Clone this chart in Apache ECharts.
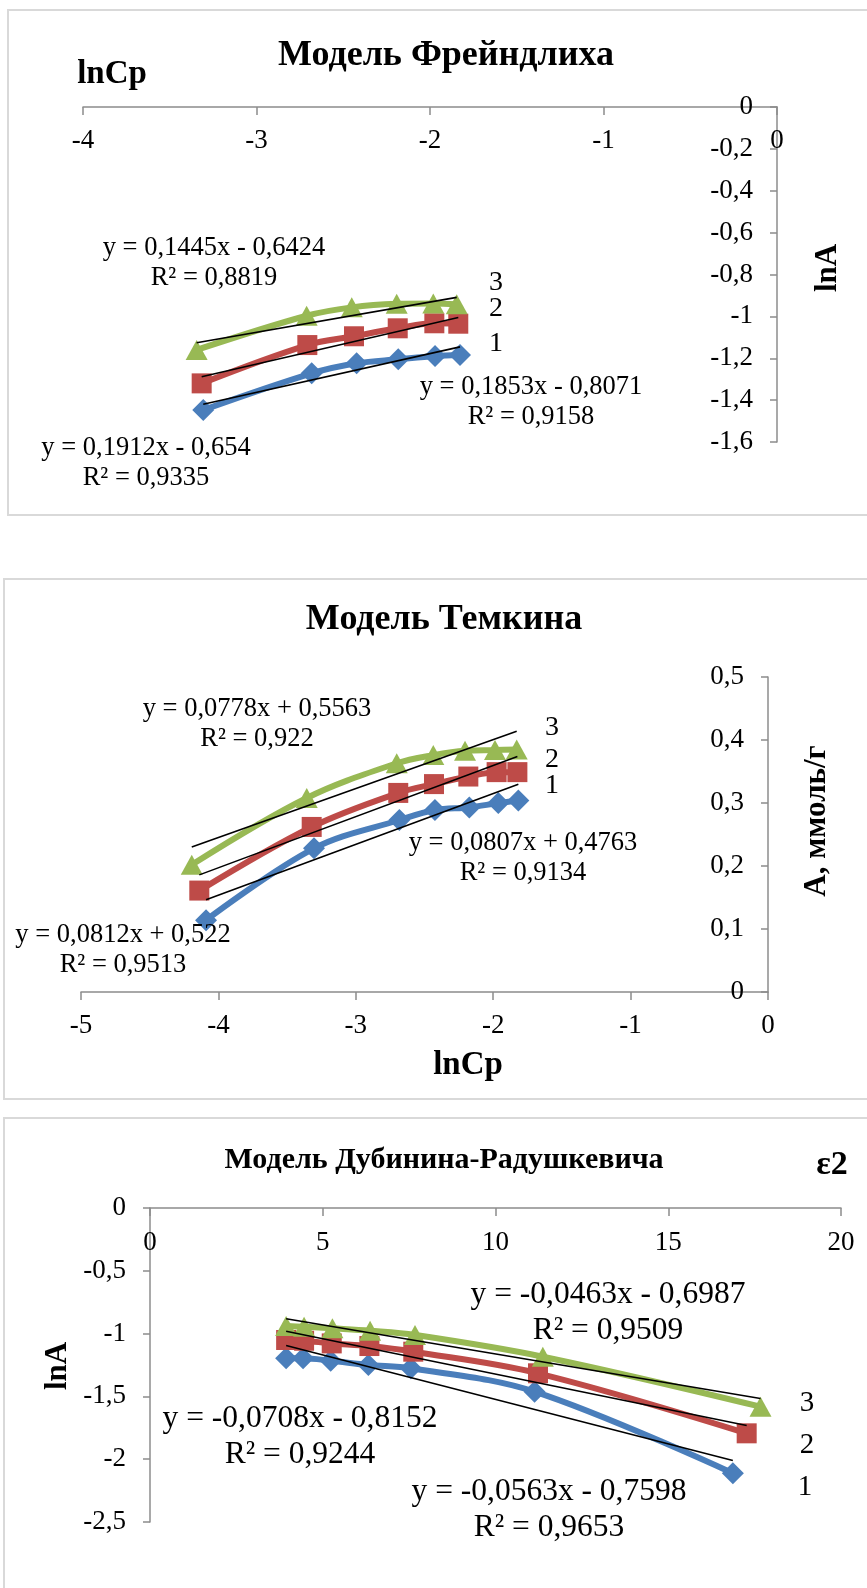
<!DOCTYPE html>
<html>
<head>
<meta charset="utf-8">
<script src="https://cdn.jsdelivr.net/npm/echarts@6/dist/echarts.min.js"></script>
<style>
html,body{margin:0;padding:0;background:#fff;}
#chart{width:867px;height:1588px;}
</style>
</head>
<body>
<div id="chart"></div>
<script>
// ---------- DATA ----------
// Freundlich model (lnCp -> lnA), series 1 (blue), 2 (red), 3 (green)
const freundX1 = [-3.307, -2.682, -2.423, -2.183, -1.971, -1.827];
const freundY1 = [-1.447, -1.272, -1.224, -1.205, -1.189, -1.184];
const freundX2 = [-3.316, -2.707, -2.438, -2.186, -1.975, -1.837];
const freundY2 = [-1.320, -1.137, -1.095, -1.057, -1.033, -1.035];
const freundX3 = [-3.345, -2.711, -2.451, -2.192, -1.981, -1.846];
const freundY3 = [-1.160, -0.997, -0.957, -0.940, -0.938, -0.942];
const freundSlope = [0.1853, 0.1912, 0.1445];
const freundIntercept = [-0.8071, -0.654, -0.6424];
const freundEq = ['y = 0,1853x - 0,8071\nR² = 0,9158', 'y = 0,1912x - 0,654\nR² = 0,9335', 'y = 0,1445x - 0,6424\nR² = 0,8819'];
const freundXTicks = [-4, -3, -2, -1, 0];
const freundYTicks = [-1.6, -1.4, -1.2, -1, -0.8, -0.6, -0.4, -0.2, 0];

// Temkin model (lnCp -> A, mmol/g)
const temkX1 = [-4.090, -3.304, -2.683, -2.424, -2.174, -1.963, -1.817];
const temkY1 = [0.114, 0.228, 0.273, 0.289, 0.293, 0.300, 0.304];
const temkX2 = [-4.139, -3.321, -2.691, -2.431, -2.181, -1.975, -1.824];
const temkY2 = [0.161, 0.262, 0.316, 0.330, 0.342, 0.349, 0.349];
const temkX3 = [-4.194, -3.357, -2.702, -2.436, -2.205, -1.987, -1.829];
const temkY3 = [0.202, 0.308, 0.363, 0.376, 0.383, 0.384, 0.385];
const temkSlope = [0.0807, 0.0812, 0.0778];
const temkIntercept = [0.4763, 0.522, 0.5563];
const temkEq = ['y = 0,0807x + 0,4763\nR² = 0,9134', 'y = 0,0812x + 0,522\nR² = 0,9513', 'y = 0,0778x + 0,5563\nR² = 0,922'];
const temkXTicks = [-5, -4, -3, -2, -1, 0];
const temkYTicks = [0, 0.1, 0.2, 0.3, 0.4, 0.5];

// Dubinin-Radushkevich model (ε2 -> lnA)
const drX1 = [3.94, 4.43, 5.23, 6.32, 7.55, 11.13, 16.87];
const drY1 = [-1.197, -1.197, -1.216, -1.250, -1.276, -1.462, -2.112];
const drX2 = [3.94, 4.46, 5.26, 6.35, 7.62, 11.23, 17.27];
const drY2 = [-1.051, -1.057, -1.078, -1.099, -1.144, -1.316, -1.794];
const drX3 = [3.94, 4.46, 5.28, 6.37, 7.67, 11.37, 17.67];
const drY3 = [-0.939, -0.945, -0.958, -0.977, -1.011, -1.184, -1.582];
const drSlope = [-0.0708, -0.0563, -0.0463];
const drIntercept = [-0.8152, -0.7598, -0.6987];
const drEq = ['y = -0,0708x - 0,8152\nR² = 0,9244', 'y = -0,0563x - 0,7598\nR² = 0,9653', 'y = -0,0463x - 0,6987\nR² = 0,9509'];
const drXTicks = [0, 5, 10, 15, 20];
const drYTicks = [-2.5, -2, -1.5, -1, -0.5, 0];

const seriesNames = ['1', '2', '3'];
const titles = ['Модель Фрейндлиха', 'Модель Темкина', 'Модель Дубинина-Радушкевича'];

// ---------- STYLE ----------
const SERIF = '"Liberation Serif", "Times New Roman", serif';
const COLORS = ['#4a7ebb', '#be4b48', '#98b954'];
const SYMBOLS = ['diamond', 'rect', 'triangle'];
const SYMSIZE = [[22, 22], [20, 20], [22, 20]];
const AXIS_COLOR = '#8c8c8c';

function zip(xs, ys) { return xs.map((x, i) => [x, ys[i]]); }
function fmt(v) { const r = Math.round(v * 10) / 10; return String(r).replace('.', ','); }

function axisCfg(gi, ticks, position, inside, labelMargin, fs, tickLen) {
  return {
    gridIndex: gi, type: 'value', position: position,
    min: ticks[0], max: ticks[ticks.length - 1], interval: +(ticks[1] - ticks[0]).toFixed(2),
    axisLine: { show: true, onZero: false, lineStyle: { color: AXIS_COLOR, width: 1.5 } },
    axisTick: { show: true, inside: inside, length: tickLen, lineStyle: { color: AXIS_COLOR, width: 1.5 } },
    axisLabel: { inside: inside, margin: labelMargin, fontSize: fs, fontFamily: SERIF, color: '#000', formatter: fmt, showMinLabel: true, showMaxLabel: true, hideOverlap: false },
    splitLine: { show: false }
  };
}

const series = [];
function addPanel(gi, xs, ys, slopes, intercepts) {
  for (let k = 0; k < 3; k++) {
    series.push({
      name: seriesNames[k], type: 'line', xAxisIndex: gi, yAxisIndex: gi,
      data: zip(xs[k], ys[k]), smooth: 0.35,
      symbol: SYMBOLS[k], symbolSize: SYMSIZE[k],
      lineStyle: { color: COLORS[k], width: 6 },
      itemStyle: { color: COLORS[k] },
      z: 2 + k * 0.1
    });
  }
  for (let k = 0; k < 3; k++) {
    const xmin = Math.min.apply(null, xs[k]);
    const xmax = Math.max.apply(null, xs[k]);
    series.push({
      name: 'trend ' + seriesNames[k], type: 'line', xAxisIndex: gi, yAxisIndex: gi,
      data: [[xmin, slopes[k] * xmin + intercepts[k]], [xmax, slopes[k] * xmax + intercepts[k]]],
      symbol: 'none', silent: true,
      lineStyle: { color: '#000', width: 1.6 },
      z: 5
    });
  }
}
addPanel(0, [freundX1, freundX2, freundX3], [freundY1, freundY2, freundY3], freundSlope, freundIntercept);
addPanel(1, [temkX1, temkX2, temkX3], [temkY1, temkY2, temkY3], temkSlope, temkIntercept);
addPanel(2, [drX1, drX2, drX3], [drY1, drY2, drY3], drSlope, drIntercept);

function txt(text, x, y, size, bold, rot) {
  return {
    type: 'text', x: x, y: y, rotation: rot || 0, z: 10, silent: true,
    style: {
      text: text, fill: '#000',
      font: (bold ? 'bold ' : '') + size + 'px ' + SERIF,
      align: 'center', verticalAlign: 'middle',
      textAlign: 'center', textVerticalAlign: 'middle',
      lineHeight: Math.round(size * 1.15)
    }
  };
}
function border(x, y, w, h) {
  return { type: 'rect', shape: { x: x, y: y, width: w, height: h }, z: 0, silent: true,
    style: { fill: 'none', stroke: '#d9d9d9', lineWidth: 2 } };
}

const graphics = [
  border(8, 10, 900, 505),
  border(4, 579, 900, 520),
  border(4, 1118, 900, 600),
  // axis names
  txt('lnCp', 112, 74, 33, true),
  txt('lnA', 828, 268, 31, true, Math.PI / 2),
  txt('lnCp', 468, 1065, 33, true),
  txt('А, ммоль/г', 817, 821, 31, true, Math.PI / 2),
  txt('lnA', 58, 1366, 31, true, Math.PI / 2),
  txt('ε2', 832, 1165, 34, true),
  // Freundlich equations & series numbers
  txt(freundEq[2], 214, 263, 26.5),
  txt(freundEq[0], 531, 402, 26.5),
  txt(freundEq[1], 146, 463, 26.5),
  txt('3', 496, 283, 28), txt('2', 496, 309, 28), txt('1', 496, 344, 28),
  // Temkin
  txt(temkEq[2], 257, 724, 26.5),
  txt(temkEq[0], 523, 858, 26.5),
  txt(temkEq[1], 123, 950, 26.5),
  txt('3', 552, 728, 28), txt('2', 552, 760, 28), txt('1', 552, 786, 28),
  // DR
  txt(drEq[2], 608, 1313, 31.5),
  txt(drEq[0], 300, 1437, 31.5),
  txt(drEq[1], 549, 1510, 31.5),
  txt('3', 807, 1403, 29), txt('2', 807, 1445, 29), txt('1', 805, 1487, 29)
];

const option = {
  animation: false,
  backgroundColor: '#fff',
  title: [
    { text: titles[0], left: 446, top: 38, textAlign: 'center', padding: 0, textStyle: { fontFamily: SERIF, fontSize: 36, fontWeight: 'bold', color: '#000' } },
    { text: titles[1], left: 444, top: 602, textAlign: 'center', padding: 0, textStyle: { fontFamily: SERIF, fontSize: 36, fontWeight: 'bold', color: '#000' } },
    { text: titles[2], left: 444, top: 1145, textAlign: 'center', padding: 0, textStyle: { fontFamily: SERIF, fontSize: 30, fontWeight: 'bold', color: '#000' } }
  ],
  grid: [
    { left: 83, right: 90, top: 107, height: 335, containLabel: false },
    { left: 81, right: 99, top: 677, height: 315, containLabel: false },
    { left: 150, right: 26, top: 1208, height: 314, containLabel: false }
  ],
  xAxis: [
    axisCfg(0, freundXTicks, 'top', true, 20, 27, 8),
    axisCfg(1, temkXTicks, 'bottom', false, 20, 27, 8),
    axisCfg(2, drXTicks, 'top', true, 21, 27, 8)
  ],
  yAxis: [
    axisCfg(0, freundYTicks, 'right', true, 24, 27, 7),
    axisCfg(1, temkYTicks, 'right', true, 24, 27, 7),
    axisCfg(2, drYTicks, 'left', false, 24, 27, 7)
  ],
  series: series,
  graphic: graphics
};

const chart = echarts.init(document.getElementById('chart'), null, { renderer: 'canvas' });
chart.setOption(option);
</script>
</body>
</html>
